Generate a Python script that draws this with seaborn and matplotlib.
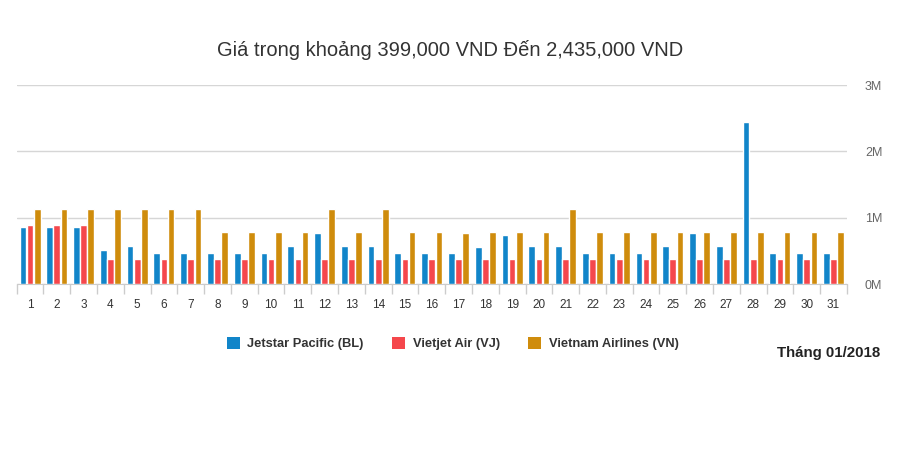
import pandas as pd
import matplotlib
matplotlib.use("Agg")
import matplotlib.pyplot as plt
import matplotlib.ticker as mticker
from matplotlib.patches import Patch
import seaborn as sns

# -------------------------------
# Data (prices in VND)
# -------------------------------
days = [str(d) for d in range(1, 32)]
airlines = ["Jetstar Pacific (BL)", "Vietjet Air (VJ)", "Vietnam Airlines (VN)"]

jetstar = [867000, 867000, 867000, 507000, 571000, 473000, 473000, 473000, 473000, 473000,
           571000, 773000, 571000, 571000, 473000, 473000, 473000, 557000, 739000, 571000,
           571000, 470000, 470000, 470000, 574000, 767000, 574000, 2435000, 470000, 470000,
           470000]
vietjet = [890000, 890000, 890000] + [378000] * 28
vietnam = [1133000] * 7 + [788000] * 4 + [1133000, 788000, 1133000, 788000, 788000,
           768000, 788000, 788000, 788000, 1133000] + [788000] * 10

colors = ["#1185c9", "#f5474c", "#cf8c0c"]

df = pd.DataFrame({
    "day": days * 3,
    "price": jetstar + vietjet + vietnam,
    "airline": [a for a in airlines for _ in days],
})

# -------------------------------
# Style
# -------------------------------
sns.set_style("white")
plt.rcParams["font.family"] = ["Liberation Sans", "DejaVu Sans"]

fig = plt.figure(figsize=(9, 4.71), dpi=100)
ax = fig.add_axes([0.0185, 0.397, 0.9225, 0.4225])

sns.barplot(
    data=df, x="day", y="price", hue="airline",
    palette=colors, saturation=1, width=0.8, gap=0.06,
    legend=False, ax=ax, zorder=3,
)

ax.set_ylim(0, 3000000)
ax.set_xlim(-0.5, 30.5)
ax.set_yticks([0, 1000000, 2000000, 3000000])
ax.yaxis.set_major_formatter(mticker.FuncFormatter(lambda v, p: f"{int(v / 1e6)}M"))
ax.yaxis.tick_right()
ax.tick_params(axis="y", length=0, pad=13, labelsize=9, labelcolor="#666666")
ax.grid(axis="y", color="#d6d6d6", linewidth=1, zorder=0)

ax.set_xticks(range(31))
ax.set_xticklabels(days)
ax.set_xticks([i - 0.5 for i in range(32)], minor=True)
ax.tick_params(axis="x", which="major", bottom=False, pad=7, labelsize=8.5, labelcolor="#333333")
ax.tick_params(axis="x", which="minor", bottom=True, length=7, width=1, color="#cccccc",
               direction="out")

for s in ["top", "left", "right"]:
    ax.spines[s].set_visible(False)
ax.spines["bottom"].set_color("#cccccc")
ax.set_xlabel("")
ax.set_ylabel("")

# Title
fig.text(0.5, 0.893, "Giá trong khoảng 399,000 VND Đến 2,435,000 VND",
         ha="center", va="center", fontsize=14.5, color="#333333")

# Legend
handles = [Patch(facecolor=c, edgecolor="none") for c in colors]
fig.legend(handles, airlines, loc="center", bbox_to_anchor=(0.503, 0.27), ncol=3,
           frameon=False, handlelength=1.0, handleheight=1.0, handletextpad=0.6,
           columnspacing=2.2, prop={"weight": "bold", "size": 9.3},
           labelcolor="#333333")

fig.text(0.978, 0.25, "Tháng 01/2018", ha="right", va="center",
         fontsize=10.8, fontweight="bold", color="#222222")

fig.savefig("out.png", dpi=100)
